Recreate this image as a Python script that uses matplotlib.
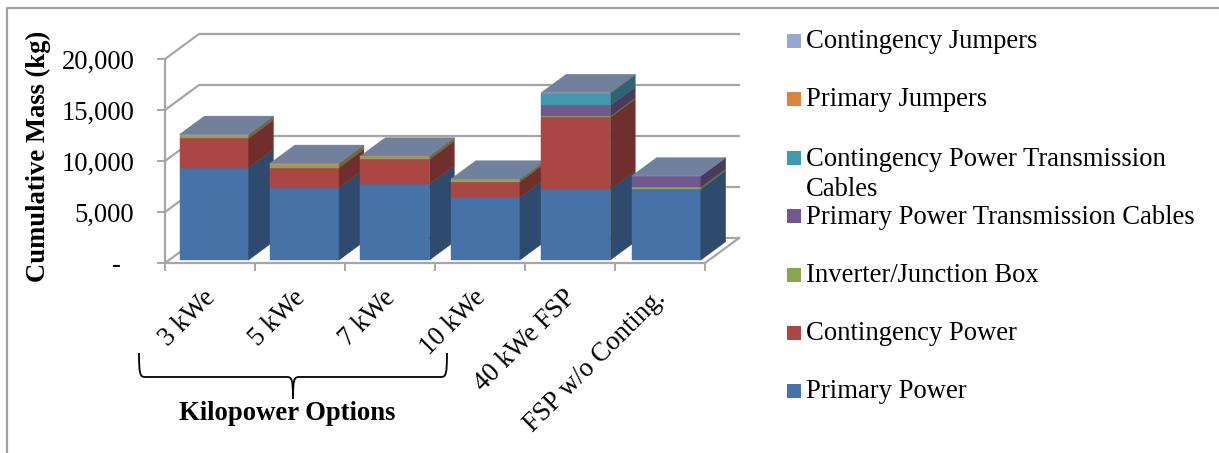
import matplotlib
matplotlib.use("Agg")
import matplotlib.pyplot as plt
from matplotlib.patches import Polygon, Rectangle, PathPatch
from matplotlib.path import Path
from matplotlib.lines import Line2D
from matplotlib.colors import to_rgb
from matplotlib.transforms import ScaledTranslation

plt.rcParams['font.family'] = ['Liberation Serif', 'DejaVu Sans']

categories = ["3 kWe", "5 kWe", "7 kWe", "10 kWe", "40 kWe FSP", "FSP w/o Conting."]
primary_power = [9050, 7090, 7450, 6150, 6960, 6960]
contingency_power = [2880, 1960, 2420, 1530, 7030, 0]
inverter_box = [210, 230, 190, 150, 120, 200]
primary_cables = [0, 0, 0, 0, 1050, 1070]
contingency_cables = [0, 0, 0, 0, 1180, 0]
primary_jumpers = [160, 180, 120, 90, 60, 0]
contingency_jumpers = [20, 20, 20, 20, 20, 20]

series_names = ["Primary Power", "Contingency Power", "Inverter/Junction Box",
                "Primary Power Transmission Cables",
                "Contingency Power Transmission Cables", "Primary Jumpers",
                "Contingency Jumpers"]
series_values = [primary_power, contingency_power, inverter_box, primary_cables,
                 contingency_cables, primary_jumpers, contingency_jumpers]
series_colors = ["#4572A7", "#AA4643", "#89A54E", "#71588F", "#4198AF", "#DB843D", "#93A9CF"]
y_ticks = [0, 5000, 10000, 15000, 20000]
y_labels = ["-  ", "5,000", "10,000", "15,000", "20,000"]

W, H = 1219, 453
GRID = "#A6A6A6"
FS = 19.2


def px(x, y):
    return (x / W, 1 - y / H)


def shade(c, f):
    return tuple(v * f for v in to_rgb(c))


fig = plt.figure(figsize=(W / 100, H / 100), dpi=100, facecolor="white")
ax = fig.add_axes([165 / W, 1 - 263 / H, 540 / W, 204 / H], facecolor="none")
ax.set_xlim(0, 6)
ax.set_ylim(0, 20000)

# oblique depth vector, in data units
DX = 34 / 90
DY = 2450
D0, D1 = 0.12, 0.85
BAR_W = 0.767
PITCH = 1.005

# walls and floor
for t in y_ticks:
    ax.plot([0, DX, 6 + DX], [t, t + DY, t + DY], color=GRID, lw=1.6,
            clip_on=False, zorder=1, solid_joinstyle="miter")
ax.plot([6, 6 + DX], [0, DY], color=GRID, lw=1.6, clip_on=False, zorder=1)

# stacked blocks
for i in range(len(categories)):
    z = 3 + i
    x0 = i * PITCH + 0.5 - BAR_W / 2 + D0 * DX
    x1 = x0 + BAR_W
    base = 0
    sdx = (D1 - D0) * DX
    sdy = (D1 - D0) * DY
    y0 = D0 * DY
    for vals, col in zip(series_values, series_colors):
        v = vals[i]
        if v <= 0:
            continue
        ax.bar(x0, v, BAR_W, bottom=y0 + base, align="edge", color=col,
               edgecolor=col, linewidth=0.3, clip_on=False, zorder=z)
        side = shade(col, 0.66)
        ax.add_patch(Polygon([(x1, y0 + base), (x1 + sdx, y0 + base + sdy),
                              (x1 + sdx, y0 + base + v + sdy), (x1, y0 + base + v)],
                             closed=True, facecolor=side, edgecolor=side, lw=0.3,
                             clip_on=False, zorder=z))
        base += v
        top_col = col
    roof = shade(top_col, 0.76)
    ax.add_patch(Polygon([(x0, y0 + base), (x1, y0 + base), (x1 + sdx, y0 + base + sdy),
                          (x0 + sdx, y0 + base + sdy)], closed=True,
                         facecolor=roof, edgecolor=roof, lw=0.3,
                         clip_on=False, zorder=z))

# axes
for s in ("top", "right"):
    ax.spines[s].set_visible(False)
for s in ("left", "bottom"):
    ax.spines[s].set_color(GRID)
    ax.spines[s].set_linewidth(1.6)
    ax.spines[s].set_zorder(20)
ax.set_yticks(y_ticks)
ax.set_yticklabels(y_labels, fontsize=FS, color="black")
ax.tick_params(axis="y", length=6, width=1.4, color=GRID, pad=16)
ax.set_xticks(range(7))
ax.set_xticklabels([])
ax.tick_params(axis="x", which="major", length=6, width=1.4, color=GRID)
ax.set_xticks([i + 0.5 for i in range(6)], minor=True)
ax.set_xticklabels(categories, minor=True, rotation=45, ha="right",
                   rotation_mode="anchor", fontsize=FS, color="black")
ax.tick_params(axis="x", which="minor", length=0, pad=16)
shift = ScaledTranslation(-7 / 100, 0, fig.dpi_scale_trans)
for tick in ax.xaxis.get_minor_ticks():
    tick.label1.set_transform(tick.label1.get_transform() + shift)

fig.text(*px(38, 156), "Cumulative Mass (kg)", rotation=90, ha="center", va="center",
         fontsize=19.2, fontweight="bold")

# outer frame
fig.add_artist(Line2D([7 / W, 7 / W, 1], [0, 1 - 8 / H, 1 - 8 / H], color="#A0A0A0", lw=1.6))

# brace
bx0, bx1, bm = 139, 447, 293
ytop, ymid, ytip = 353, 377, 399
verts = [px(bx0, ytop), px(bx0, ymid - 3), px(bx0 + 1, ymid), px(bx0 + 6, ymid),
         px(bm - 6, ymid), px(bm - 1, ymid), px(bm, ymid + 3), px(bm, ytip),
         px(bm, ymid + 3), px(bm + 1, ymid), px(bm + 6, ymid),
         px(bx1 - 6, ymid), px(bx1 - 1, ymid), px(bx1, ymid - 3), px(bx1, ytop)]
codes = [Path.MOVETO, Path.CURVE4, Path.CURVE4, Path.CURVE4,
         Path.LINETO, Path.CURVE4, Path.CURVE4, Path.CURVE4,
         Path.CURVE4, Path.CURVE4, Path.CURVE4,
         Path.LINETO, Path.CURVE4, Path.CURVE4, Path.CURVE4]
fig.add_artist(PathPatch(Path(verts, codes), facecolor="none", edgecolor="black", lw=1.3,
                         transform=fig.transFigure))
fig.text(*px(287.5, 413), "Kilopower Options", ha="center", va="center",
         fontsize=19.2, fontweight="bold")

# legend, reversed order, one row per series
row_y = [391, 333, 275, 216, 158, 99, 41]
for name, col, y in zip(series_names, series_colors, row_y):
    xa, ya = px(787, y + 7)
    fig.add_artist(Rectangle((xa, ya), 14 / W, 14 / H, facecolor=col, edgecolor="none",
                             transform=fig.transFigure))
    if name.startswith("Contingency Power Transmission"):
        fig.text(*px(806, y + 1), "Contingency Power Transmission", va="center", fontsize=FS)
        fig.text(*px(806, y + 31), "Cables", va="center", fontsize=FS)
    else:
        fig.text(*px(806, y + 1), name, va="center", fontsize=FS)

fig.savefig("out.png", dpi=100)
